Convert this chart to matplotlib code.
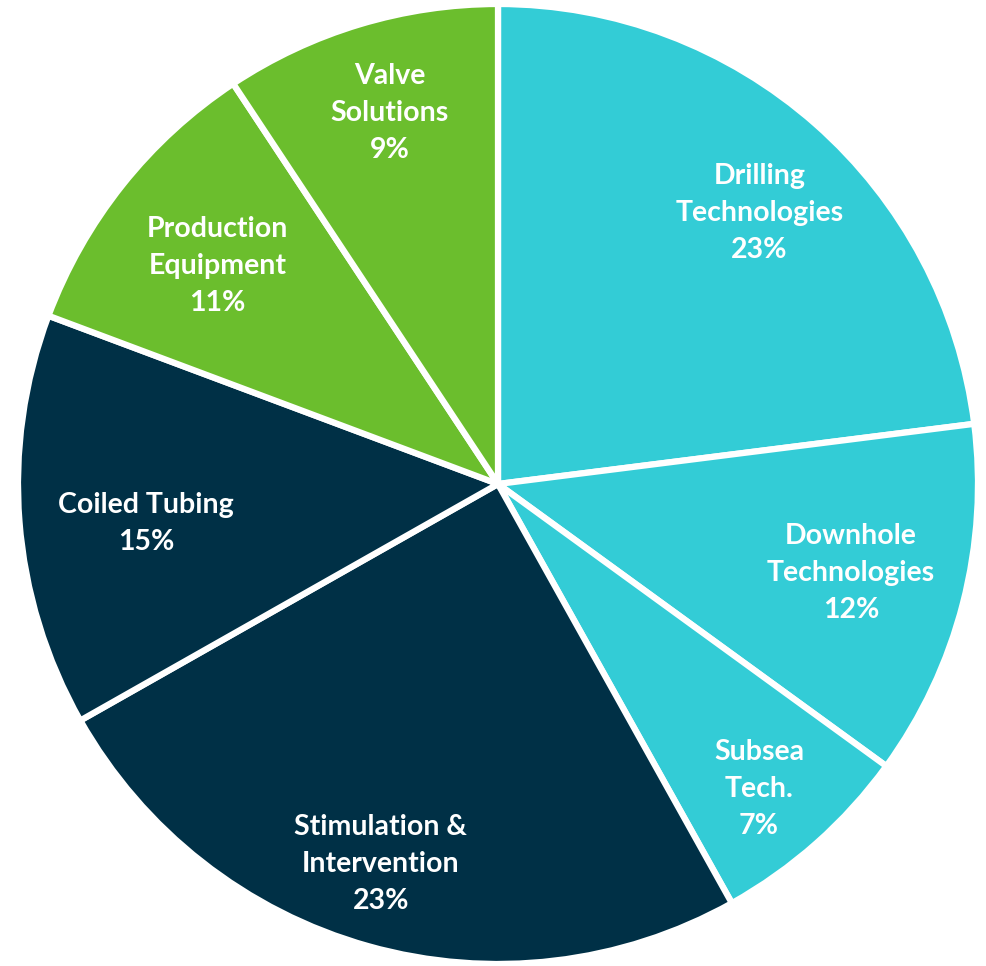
import numpy as np
import matplotlib
matplotlib.use("Agg")
import matplotlib.pyplot as plt

# Segment shares, clockwise from 12 o'clock
segments = ["Drilling\nTechnologies", "Downhole\nTechnologies", "Subsea\nTech.",
            "Stimulation &\nIntervention", "Coiled Tubing", "Production\nEquipment",
            "Valve\nSolutions"]
shares = [23.0, 12.0, 6.9, 24.9, 13.9, 10.0, 9.3]
pct_labels = ["23%", "12%", "7%", "23%", "15%", "11%", "9%"]

cyan = "#33CCD6"
navy = "#003046"
green = "#6BBE2D"
colors = [cyan, cyan, cyan, navy, navy, green, green]

# label placement: fraction of radius, and angle nudge (deg) from wedge middle
label_r = [0.784, 0.758, 0.836, 0.829, 0.738, 0.74, 0.805]
label_da = [-2.6, 0.3, -1.0, -1.45, 1.85, 0.65, -0.45]

fig = plt.figure(figsize=(9.87, 9.66), dpi=100)
ax = fig.add_axes([18 / 987, 2 / 966, 960 / 987, 960 / 966])

wedges, _ = ax.pie(shares, colors=colors, startangle=90, counterclock=False,
                   radius=1.0, wedgeprops=dict(edgecolor="white", linewidth=4.5))

for w, name, pct, r, da in zip(wedges, segments, pct_labels, label_r, label_da):
    mid = np.deg2rad((w.theta1 + w.theta2) / 2 + da)
    ax.text(r * np.cos(mid), r * np.sin(mid), name + "\n" + pct,
            ha="center", va="center", color="white", fontsize=20.5,
            fontweight="bold", family=["Lato", "DejaVu Sans"], linespacing=1.52)

ax.set_xlim(-1, 1)
ax.set_ylim(-1, 1)
ax.set_aspect("equal")
ax.axis("off")

plt.savefig("out.png", dpi=100)
plt.close()
